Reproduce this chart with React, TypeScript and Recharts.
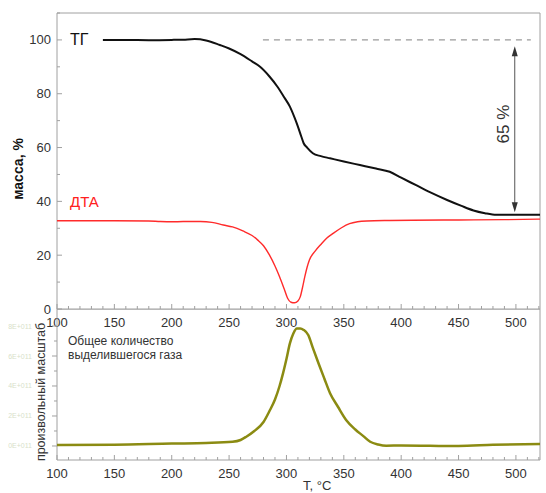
import { LineChart, Line, XAxis, YAxis, ReferenceLine, ReferenceArea } from "recharts"

// temperatures (°C) and values
const tgTemp = [140, 160, 180, 200, 210, 220, 230, 242, 250, 260, 270, 277, 285, 292, 298, 303, 307, 310, 313, 315, 318, 323, 330, 338, 350, 364, 378, 390, 400, 413, 425, 440, 452, 463, 473, 483, 500, 521]
const tgMass = [100, 100, 99.9, 100, 100.1, 100.3, 99.8, 98.1, 96.8, 94.7, 92, 90, 86.5, 82.7, 78.7, 75.2, 71.2, 67.8, 64, 61.6, 60, 57.9, 56.8, 56, 54.8, 53.5, 52.2, 51, 48.8, 46, 43.4, 40.5, 38.4, 36.6, 35.6, 35, 35, 35]

const dtaTemp = [100, 150, 180, 190, 200, 210, 225, 235, 245, 253, 262, 270, 275, 280, 285, 290, 294, 298, 301, 304, 307, 310, 312, 314, 316, 318, 320, 325, 330, 335, 341, 348, 355, 362, 370, 390, 410, 450, 490, 521]
const dtaSignal = [32.8, 32.8, 32.7, 32.5, 32.4, 32.5, 32.5, 32.2, 31.2, 30.5, 29, 27.3, 25.6, 23.5, 20.2, 16, 12, 7.5, 4, 2.5, 2.3, 3, 4.5, 8, 12, 15.5, 18.2, 21.5, 24, 26.3, 28.2, 30.2, 31.7, 32.4, 32.7, 32.9, 33, 33.1, 33.2, 33.4]

const gasTemp = [100, 150, 200, 230, 253, 260, 265, 272, 280, 285, 290, 294, 297, 300, 303, 306, 309, 312, 315, 319, 323, 328, 333, 338, 345, 352, 360, 367, 373, 380, 387, 400, 450, 480, 521]
const gasSignal = [0.03, 0.04, 0.08, 0.1, 0.14, 0.2, 0.31, 0.5, 0.8, 1.15, 1.55, 2.0, 2.42, 2.9, 3.42, 3.75, 3.92, 3.92, 3.87, 3.7, 3.27, 2.75, 2.25, 1.76, 1.3, 0.87, 0.55, 0.33, 0.14, 0.05, 0.01, 0.02, 0.0, 0.04, 0.07]

const xLabels = [100, 150, 200, 250, 300, 350, 400, 450, 500]
const massLabels = [0, 20, 40, 60, 80, 100]
const gasLabels = ["0E+011", "2E+011", "4E+011", "6E+011", "8E+011"]

const xTicks = Array.from({ length: 43 }, (_, i) => 100 + i * 10)
const massTicks = Array.from({ length: 12 }, (_, i) => i * 10)
const gasTicks = [0, 0.5, 1, 1.5, 2, 2.5, 3, 3.5, 4]

const tgData = tgTemp.map((t, i) => ({ t, v: tgMass[i] }))
const dtaData = dtaTemp.map((t, i) => ({ t, v: dtaSignal[i] }))
const gasData = gasTemp.map((t, i) => ({ t, v: gasSignal[i] }))

const FONT = "'Liberation Sans', Arial, sans-serif"
const FRAME = "#a0a0a0"
const INK = "#333"

const BottomTick = ({ x, y, payload }: any) => {
  const v = payload.value
  const major = xLabels.includes(v)
  return (
    <g>
      <line x1={x} x2={x} y1={y} y2={y - (major ? 5 : 3)} stroke={FRAME} />
      {major && (
        <text x={x} y={y + 17.5} textAnchor="middle" fontSize={13} fill={INK} fontFamily={FONT}>
          {v}
        </text>
      )}
    </g>
  )
}

const TopTick = ({ x, y, payload }: any) => {
  const major = xLabels.includes(payload.value)
  return <line x1={x} x2={x} y1={y} y2={y + (major ? 5 : 3)} stroke={FRAME} />
}

const MassTick = ({ x, y, payload }: any) => {
  const v = payload.value
  const major = massLabels.includes(v)
  return (
    <g>
      <line x1={x} x2={x + (major ? 5 : 3)} y1={y} y2={y} stroke={FRAME} />
      {major && (
        <text x={x - 6} y={y + 4.5} textAnchor="end" fontSize={13} fill={INK} fontFamily={FONT}>
          {v}
        </text>
      )}
    </g>
  )
}

const GasTick = ({ x, y, payload }: any) => {
  const v = payload.value
  const major = Number.isInteger(v)
  return (
    <g>
      <line x1={x - (major ? 5 : 3)} x2={x} y1={y} y2={y} stroke={FRAME} />
      {major && (
        <text x={x - 25} y={y + 2.5} textAnchor="end" fontSize={7} fill="#d8dfca" fontFamily={FONT}>
          {gasLabels[v]}
        </text>
      )}
    </g>
  )
}

const Arrow = ({ x1, y1, x2, y2 }: any) => (
  <g>
    <line x1={x1} y1={y1 + 8} x2={x2} y2={y2 - 8} stroke="#555" strokeWidth={1} />
    <polygon points={`${x1},${y1} ${x1 - 3},${y1 + 10} ${x1 + 3},${y1 + 10}`} fill="#333" />
    <polygon points={`${x2},${y2} ${x2 - 3},${y2 - 10} ${x2 + 3},${y2 - 10}`} fill="#333" />
  </g>
)

export default function App() {
  return (
    <div style={{ position: "absolute", left: 0, top: 0, width: 546, height: 493, background: "#fff", fontFamily: FONT }}>
      <div style={{ position: "absolute", left: 0, top: 0 }}>
        <LineChart width={546} height={340} margin={{ top: 13, right: 6, left: 0, bottom: 0 }}>
          <XAxis
            xAxisId="x"
            type="number"
            dataKey="t"
            domain={[100, 521]}
            ticks={xTicks}
            interval={0}
            tick={<BottomTick />}
            tickLine={false}
            tickSize={0}
            tickMargin={0}
            axisLine={false}
            height={31}
            allowDataOverflow
          />
          <YAxis
            yAxisId="y"
            type="number"
            domain={[0, 110]}
            ticks={massTicks}
            interval={0}
            tick={<MassTick />}
            tickLine={false}
            tickSize={0}
            tickMargin={0}
            axisLine={false}
            width={57}
            allowDataOverflow
          />
          <ReferenceArea xAxisId="x" yAxisId="y" x1={100} x2={521} y1={0} y2={110} fill="none" stroke={FRAME} strokeWidth={1} ifOverflow="visible" />
          <ReferenceLine
            xAxisId="x"
            yAxisId="y"
            segment={[{ x: 279.5, y: 100 }, { x: 513, y: 100 }]}
            stroke="#9a9a9a"
            strokeDasharray="6 5"
            strokeWidth={1.3}
          />
          <ReferenceLine
            xAxisId="x"
            yAxisId="y"
            segment={[{ x: 499, y: 97.6 }, { x: 499, y: 36 }]}
            shape={Arrow}
          />
          <Line xAxisId="x" yAxisId="y" data={dtaData} dataKey="v" type="monotone" stroke="#ff2b2b" strokeWidth={1.4} dot={false} isAnimationActive={false} />
          <Line xAxisId="x" yAxisId="y" data={tgData} dataKey="v" type="monotone" stroke="#111" strokeWidth={2} dot={false} isAnimationActive={false} />
        </LineChart>
      </div>
      <div style={{ position: "absolute", left: 0, top: 309 }}>
        <LineChart width={546} height={184} margin={{ top: 0, right: 6, left: 0, bottom: 0 }}>
          <XAxis
            xAxisId="x"
            type="number"
            dataKey="t"
            domain={[100, 521]}
            ticks={xTicks}
            interval={0}
            tick={<BottomTick />}
            tickLine={false}
            tickSize={0}
            tickMargin={0}
            axisLine={false}
            height={33}
            allowDataOverflow
          />
          <XAxis
            xAxisId="top"
            orientation="top"
            type="number"
            domain={[100, 521]}
            ticks={xTicks}
            interval={0}
            tick={<TopTick />}
            tickLine={false}
            tickSize={0}
            tickMargin={0}
            axisLine={false}
            height={0}
          />
          <YAxis
            yAxisId="y"
            type="number"
            domain={[-0.467, 4.567]}
            ticks={gasTicks}
            interval={0}
            tick={<GasTick />}
            tickLine={false}
            tickSize={0}
            tickMargin={0}
            axisLine={false}
            width={57}
            allowDataOverflow
          />
          <ReferenceArea xAxisId="x" yAxisId="y" x1={100} x2={521} y1={-0.467} y2={4.567} fill="none" stroke={FRAME} strokeWidth={1} ifOverflow="visible" />
          <Line xAxisId="x" yAxisId="y" data={gasData} dataKey="v" type="monotone" stroke="#8b8b12" strokeWidth={2.5} dot={false} isAnimationActive={false} />
        </LineChart>
      </div>
      <svg width={546} height={493} style={{ position: "absolute", left: 0, top: 0, pointerEvents: "none" }} fontFamily={FONT}>
        <text x={70} y={45} fontSize={16} fill="#111">ТГ</text>
        <text x={70} y={207} fontSize={15} fill="#ff2020">ДТА</text>
        <text transform="translate(509,124) rotate(-90)" textAnchor="middle" fontSize={17} fill={INK}>65 %</text>
        <text transform="translate(23,169) rotate(-90)" textAnchor="middle" fontSize={14} fontWeight="bold" fill="#111">масса, %</text>
        <text transform="translate(45,392) rotate(-90)" textAnchor="middle" fontSize={12.5} fill={INK}>произвольный масштаб</text>
        <text x={68} y={345} fontSize={12} fill={INK}>Общее количество</text>
        <text x={68} y={359} fontSize={12} fill={INK}>выделившегося газа</text>
        <text x={303} y={490} fontSize={13} fill={INK}>T, °C</text>
      </svg>
    </div>
  )
}
